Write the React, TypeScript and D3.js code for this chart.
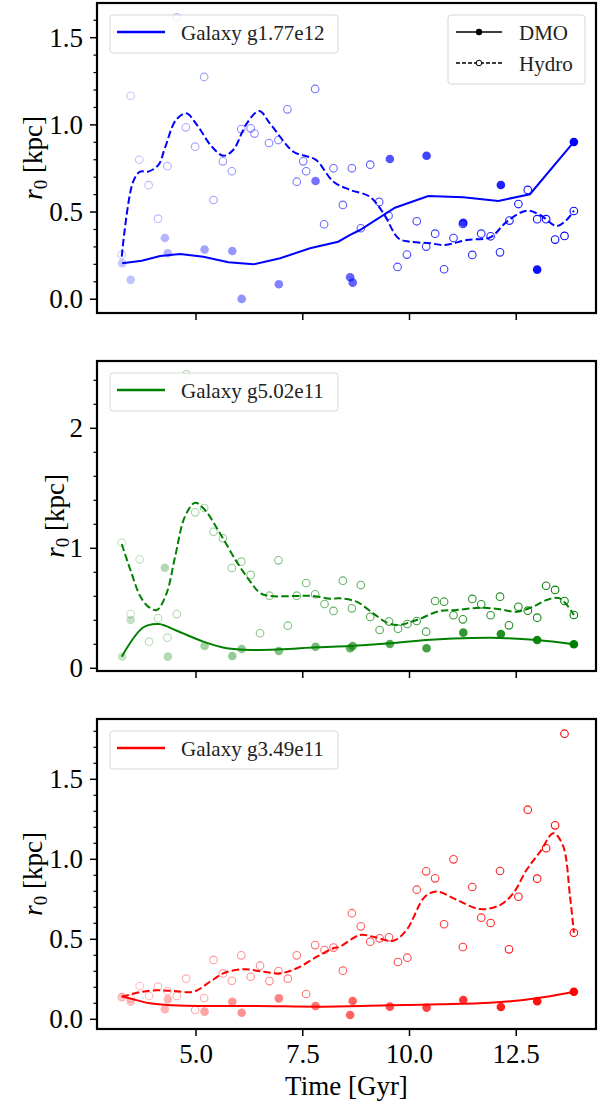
import React from 'react';
import * as d3 from 'd3';

// Snapshot times [Gyr] of the dark-matter-only runs (shared by all three galaxies)
const DMO_TIMES = [3.27, 3.47, 4.27, 4.34, 5.2, 5.85, 6.07, 6.94, 7.8, 8.61, 8.67, 9.54, 10.4, 11.26, 12.14, 12.99, 13.85];

// Snapshot times [Gyr] of the hydro runs for g5.02e11 and g3.49e11
const HYDRO_TIMES = [
  3.26, 3.47, 3.68, 3.9, 4.11, 4.33, 4.55, 4.77, 4.98, 5.19,
  5.41, 5.63, 5.84, 6.06, 6.28, 6.5, 6.72, 6.93, 7.15, 7.36,
  7.58, 7.79, 8.01, 8.22, 8.44, 8.65, 8.86, 9.08, 9.3, 9.52,
  9.73, 9.95, 10.17, 10.39, 10.6, 10.81, 11.03, 11.25, 11.47, 11.68,
  11.9, 12.12, 12.33, 12.55, 12.77, 12.99, 13.2, 13.41, 13.63, 13.85,
];

// Snapshot times [Gyr] of the hydro run for g1.77e12
const G177_HYDRO_TIMES = [
  3.26, 3.47, 3.67, 3.89, 4.11, 4.33, 4.55, 4.76, 4.98, 5.19,
  5.41, 5.63, 5.84, 6.06, 6.28, 6.37, 6.71, 6.93, 7.14, 7.36,
  7.51, 7.58, 7.79, 8.0, 8.22, 8.44, 8.65, 8.86, 9.08, 9.29,
  9.51, 9.72, 9.94, 10.17, 10.39, 10.6, 10.81, 11.03, 11.25, 11.47,
  11.68, 11.9, 12.12, 12.34, 12.55, 12.77, 12.99, 13.2, 13.41, 13.63, 13.85,
];

// Core radius r0 [kpc] per snapshot
const G177_DMO = [0.206, 0.111, 0.351, 0.264, 0.285, 0.277, 0.002, 0.086, 0.678, 0.126, 0.095, 0.804, 0.823, 0.439, 0.655, 0.17, 0.902];
const G177_HYDRO = [
  0.254, 1.167, 0.8, 0.654, 0.462, 0.763, 1.617, 0.986, 0.875, 1.275,
  0.569, 0.791, 0.734, 0.976, 0.98, 0.95, 0.896, 0.913, 1.089, 0.674,
  0.791, 0.734, 1.206, 0.43, 0.751, 0.541, 0.751, 0.407, 0.772, 0.558,
  0.479, 0.185, 0.256, 0.447, 0.302, 0.376, 0.172, 0.351, 0.432, 0.254,
  0.376, 0.361, 0.269, 0.451, 0.546, 0.627, 0.459, 0.459, 0.342, 0.363, 0.506,
];

const G502_DMO = [0.097, 0.403, 0.838, 0.097, 0.186, 0.103, 0.161, 0.144, 0.18, 0.167, 0.186, 0.203, 0.167, 0.297, 0.286, 0.236, 0.2];
const G502_HYDRO = [
  1.047, 0.452, 0.908, 0.222, 0.417, 0.255, 0.452, 2.45, 1.3, 1.336,
  1.138, 1.083, 0.836, 0.889, 0.778, 0.292, 0.605, 0.9, 0.355, 0.605,
  0.711, 0.617, 0.536, 0.478, 0.73, 0.5, 0.694, 0.428, 0.319, 0.389,
  0.33, 0.369, 0.394, 0.305, 0.561, 0.555, 0.442, 0.408, 0.578, 0.533,
  0.442, 0.597, 0.358, 0.513, 0.48, 0.422, 0.688, 0.653, 0.561, 0.444,
];

const G349_DMO = [0.141, 0.11, 0.0625, 0.125, 0.048, 0.11, 0.041, 0.131, 0.083, 0.027, 0.114, 0.079, 0.073, 0.121, 0.077, 0.1125, 0.1725];
const G349_HYDRO = [
  0.1375, 0.13, 0.208, 0.146, 0.204, 0.177, 0.146, 0.254, 0.058, 0.133,
  0.371, 0.287, 0.241, 0.4, 0.266, 0.335, 0.239, 0.302, 0.254, 0.4,
  0.158, 0.464, 0.433, 0.448, 0.304, 0.663, 0.581, 0.485, 0.506, 0.5125,
  0.358, 0.385, 0.81, 0.925, 0.881, 0.594, 1.0, 0.452, 0.827, 0.635,
  0.602, 0.927, 0.4375, 0.766, 1.31, 0.879, 1.069, 1.2125, 1.785, 0.541,
];

// Smoothed trends: [time, r0]
const G177_DMO_TREND = [[3.27, 0.206], [3.73, 0.221], [4.16, 0.248], [4.63, 0.26], [5.17, 0.244], [5.76, 0.212], [6.34, 0.2], [6.97, 0.235], [7.67, 0.292], [8.33, 0.33], [8.61, 0.369], [8.84, 0.397], [9.66, 0.525], [10.44, 0.592], [11.26, 0.585], [12.08, 0.564], [12.82, 0.602], [13.85, 0.902]];
const G177_HYDRO_TREND = [[3.26, 0.244], [3.52, 0.669], [3.69, 0.732], [3.88, 0.732], [4.12, 0.77], [4.27, 0.866], [4.53, 1.028], [4.77, 1.066], [5.02, 1.0], [5.37, 0.875], [5.64, 0.823], [5.87, 0.856], [6.19, 1.009], [6.48, 1.08], [6.73, 1.009], [7.28, 0.846], [7.55, 0.823], [7.81, 0.799], [8.22, 0.674], [8.61, 0.627], [9.07, 0.588], [9.39, 0.493], [9.74, 0.35], [10.01, 0.33], [10.48, 0.321], [10.83, 0.311], [11.34, 0.34], [11.89, 0.355], [12.28, 0.445], [12.74, 0.508], [13.06, 0.483], [13.45, 0.42], [13.68, 0.455], [13.85, 0.508]];

const G502_DMO_TREND = [[3.26, 0.097], [3.77, 0.342], [4.13, 0.369], [4.55, 0.313], [5.17, 0.222], [5.72, 0.167], [6.34, 0.153], [6.97, 0.158], [7.83, 0.175], [8.61, 0.186], [9.54, 0.208], [10.4, 0.236], [11.26, 0.25], [12.12, 0.253], [12.98, 0.236], [13.85, 0.2]];
const G502_HYDRO_TREND = [[3.26, 1.036], [3.49, 0.792], [3.69, 0.603], [3.88, 0.514], [4.08, 0.486], [4.31, 0.625], [4.51, 0.93], [4.74, 1.264], [4.98, 1.38], [5.21, 1.319], [5.56, 1.125], [5.95, 0.889], [6.26, 0.728], [6.5, 0.628], [6.73, 0.603], [7.36, 0.603], [7.75, 0.603], [8.14, 0.58], [8.37, 0.583], [8.76, 0.555], [9.15, 0.458], [9.47, 0.38], [9.74, 0.361], [10.17, 0.403], [10.71, 0.478], [11.11, 0.486], [11.65, 0.505], [12.12, 0.492], [12.51, 0.472], [12.9, 0.514], [13.21, 0.569], [13.52, 0.583], [13.85, 0.444]];

const G349_DMO_TREND = [[3.26, 0.146], [3.53, 0.125], [3.92, 0.1], [4.47, 0.0875], [5.09, 0.083], [6.42, 0.083], [7.98, 0.079], [9.54, 0.0875], [10.71, 0.094], [11.89, 0.104], [12.67, 0.121], [13.21, 0.141], [13.85, 0.1725]];
const G349_HYDRO_TREND = [[3.26, 0.14], [3.69, 0.17], [4.08, 0.181], [4.47, 0.177], [4.94, 0.1725], [5.33, 0.235], [5.64, 0.2875], [6.11, 0.3125], [6.58, 0.2975], [6.97, 0.2875], [7.36, 0.319], [7.83, 0.391], [8.22, 0.444], [8.37, 0.454], [8.84, 0.527], [9.15, 0.516], [9.62, 0.491], [9.93, 0.558], [10.36, 0.766], [10.64, 0.798], [11.11, 0.746], [11.65, 0.689], [12.12, 0.714], [12.43, 0.7875], [12.74, 0.933], [13.06, 1.0475], [13.37, 1.1625], [13.59, 1.089], [13.76, 0.766], [13.85, 0.541]];

const X_TICKS = [5, 7.5, 10, 12.5];
const X_DOMAIN = [2.681, 14.368];

const GALAXIES = [
  {
    name: 'Galaxy g1.77e12', color: '#0000ff',
    dmoT: DMO_TIMES, dmo: G177_DMO, hydroT: G177_HYDRO_TIMES, hydro: G177_HYDRO,
    dmoTrend: G177_DMO_TREND, hydroTrend: G177_HYDRO_TREND, smoothDmo: false,
    yDomain: [-0.079, 1.699], major: [0, 0.5, 1.0, 1.5], minorStep: 0.1, minorMax: 1.65, fmt: '.1f', ylabelX: 42,
  },
  {
    name: 'Galaxy g5.02e11', color: '#008000',
    dmoT: DMO_TIMES, dmo: G502_DMO, hydroT: HYDRO_TIMES, hydro: G502_HYDRO,
    dmoTrend: G502_DMO_TREND, hydroTrend: G502_HYDRO_TREND, smoothDmo: true,
    yDomain: [-0.0225, 2.561], major: [0, 1, 2], minorStep: 0.2, minorMax: 2.5, fmt: 'd', ylabelX: 64,
  },
  {
    name: 'Galaxy g3.49e11', color: '#ff0000',
    dmoT: DMO_TIMES, dmo: G349_DMO, hydroT: HYDRO_TIMES, hydro: G349_HYDRO,
    dmoTrend: G349_DMO_TREND, hydroTrend: G349_HYDRO_TREND, smoothDmo: true,
    yDomain: [-0.0606, 1.8769], major: [0, 0.5, 1.0, 1.5], minorStep: 0.1, minorMax: 1.85, fmt: '.1f', ylabelX: 42,
  },
];

const W = 603;
const H = 1106;
const LEFT = 97;
const RIGHT = 596;
const PANEL_TOPS = [3, 361, 719];
const PANEL_H = 310;
const FONT = '"Liberation Serif", "Times New Roman", Times, "DejaVu Serif", serif';
const T_MIN = 3.26;
const T_MAX = 13.85;

const x = d3.scaleLinear().domain(X_DOMAIN).range([LEFT, RIGHT]);
const alphaOf = (t: number) => 0.22 + 0.78 * Math.max(0, Math.min(1, (t - T_MIN) / (T_MAX - T_MIN)));
const serif = { fontFamily: FONT };

function Panel({ g, idx }: { g: any; idx: number }) {
  const top = PANEL_TOPS[idx];
  const bottom = top + PANEL_H;
  const y = d3.scaleLinear().domain(g.yDomain).range([bottom, top]);
  const fmt = d3.format(g.fmt);
  const minors: number[] = [];
  for (let v = 0; v <= g.minorMax + 1e-9; v += g.minorStep) {
    const r = Math.round(v * 100) / 100;
    if (!g.major.some((m: number) => Math.abs(m - r) < 1e-6)) minors.push(r);
  }
  const dmoLine = d3.line<number[]>()
    .x((d) => x(d[0]))
    .y((d) => y(d[1]))
    .curve(g.smoothDmo ? d3.curveCatmullRom.alpha(0.5) : d3.curveLinear);
  const hydroLine = d3.line<number[]>()
    .x((d) => x(d[0]))
    .y((d) => y(d[1]))
    .curve(d3.curveCatmullRom.alpha(0.5));
  const clipId = `clip-${idx}`;
  const isLast = idx === 2;
  const midY = (top + bottom) / 2;
  const legTop = top + 12;

  return (
    <g>
      <defs>
        <clipPath id={clipId}>
          <rect x={LEFT} y={top} width={RIGHT - LEFT} height={PANEL_H} />
        </clipPath>
      </defs>
      <g clipPath={`url(#${clipId})`}>
        {g.hydroT.map((t: number, i: number) => (
          <circle key={`h${i}`} cx={x(t)} cy={y(g.hydro[i])} r={3.8} fill="none"
            stroke={g.color} strokeWidth={1.1} strokeOpacity={alphaOf(t)} />
        ))}
        {g.dmoT.map((t: number, i: number) => (
          <circle key={`d${i}`} cx={x(t)} cy={y(g.dmo[i])} r={4.3} fill={g.color}
            fillOpacity={alphaOf(t)} stroke="none" />
        ))}
        <path d={hydroLine(g.hydroTrend) || ''} fill="none" stroke={g.color} strokeWidth={2}
          strokeDasharray="7.4,3.2" />
        <path d={dmoLine(g.dmoTrend) || ''} fill="none" stroke={g.color} strokeWidth={2} />
      </g>

      {/* y axis ticks */}
      {g.major.map((v: number) => (
        <g key={`ym${v}`}>
          <line x1={LEFT - 7} x2={LEFT} y1={y(v)} y2={y(v)} stroke="#000" strokeWidth={1.5} />
          <text x={LEFT - 14} y={y(v) + 9} textAnchor="end" fontSize={27} style={serif} fill="#000">
            {fmt(v)}
          </text>
        </g>
      ))}
      {minors.map((v) => (
        <line key={`yn${v}`} x1={LEFT - 3.5} x2={LEFT} y1={y(v)} y2={y(v)} stroke="#000" strokeWidth={1.2} />
      ))}
      {/* x axis ticks */}
      {X_TICKS.map((v) => (
        <g key={`x${v}`}>
          <line x1={x(v)} x2={x(v)} y1={bottom} y2={bottom + 7} stroke="#000" strokeWidth={1.5} />
          {isLast && (
            <text x={x(v)} y={bottom + 34} textAnchor="middle" fontSize={27} style={serif} fill="#000">
              {d3.format('.1f')(v)}
            </text>
          )}
        </g>
      ))}

      {/* y label */}
      <text transform={`translate(${g.ylabelX},${midY}) rotate(-90)`} textAnchor="middle" fontSize={27}
        style={serif} fill="#000">
        <tspan fontStyle="italic">r</tspan>
        <tspan fontSize={19} dy={5}>0</tspan>
        <tspan dy={-5}>{' [kpc]'}</tspan>
      </text>

      {/* galaxy legend */}
      <rect x={110} y={legTop} width={228} height={38} rx={3} fill="#fff" fillOpacity={0.8}
        stroke="#cccccc" strokeOpacity={0.8} strokeWidth={1} />
      <line x1={117} x2={165} y1={legTop + 17} y2={legTop + 17} stroke={g.color} strokeWidth={2.5} />
      <text x={181} y={legTop + 25} fontSize={21} style={serif} fill="#222">{g.name}</text>

      {idx === 0 && (
        <g>
          <rect x={448} y={legTop} width={137} height={69} rx={3} fill="#fff" fillOpacity={0.8}
            stroke="#cccccc" strokeOpacity={0.8} strokeWidth={1} />
          <line x1={456} x2={502} y1={legTop + 17} y2={legTop + 17} stroke="#000" strokeWidth={1.5} />
          <circle cx={479} cy={legTop + 17} r={3.2} fill="#000" />
          <text x={519} y={legTop + 25} fontSize={21} style={serif} fill="#222">DMO</text>
          <line x1={456} x2={502} y1={legTop + 48} y2={legTop + 48} stroke="#000" strokeWidth={1.3}
            strokeDasharray="4,2" />
          <circle cx={479} cy={legTop + 48} r={2.8} fill="#fff" stroke="#000" strokeWidth={1} />
          <text x={519} y={legTop + 56} fontSize={21} style={serif} fill="#222">Hydro</text>
        </g>
      )}

      {/* frame */}
      <rect x={LEFT} y={top} width={RIGHT - LEFT} height={PANEL_H} fill="none" stroke="#000" strokeWidth={2.2} />
    </g>
  );
}

export default function App() {
  return (
    <svg width={W} height={H} viewBox={`0 0 ${W} ${H}`}
      style={{ position: 'absolute', left: 0, top: 0, display: 'block', background: '#fff' }}>
      <rect x={0} y={0} width={W} height={H} fill="#fff" />
      {GALAXIES.map((g, i) => (
        <Panel key={g.name} g={g} idx={i} />
      ))}
      <text x={(LEFT + RIGHT) / 2} y={1095} textAnchor="middle" fontSize={27} style={serif} fill="#000">
        Time [Gyr]
      </text>
    </svg>
  );
}
